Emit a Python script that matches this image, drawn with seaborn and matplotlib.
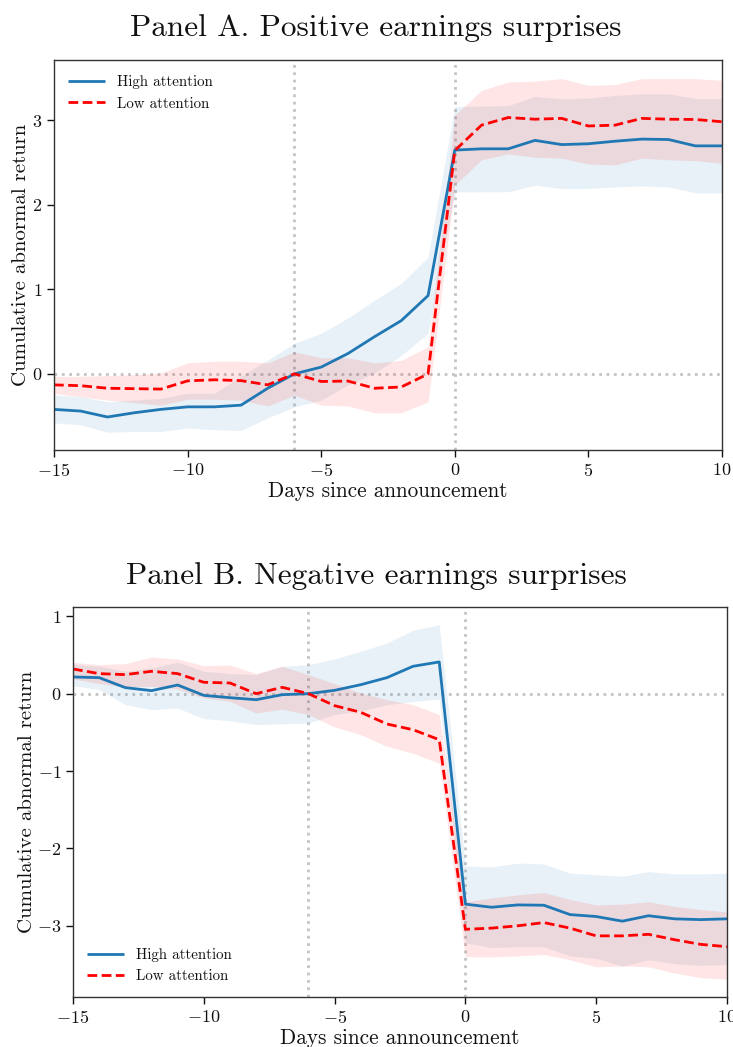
import numpy as np
import pandas as pd
import matplotlib
matplotlib.use("Agg")
import matplotlib.pyplot as plt
import seaborn as sns

days = list(range(-15, 11))

# Panel A: positive earnings surprises
pos_high = [-0.42, -0.44, -0.51, -0.46, -0.42, -0.39, -0.39, -0.37, -0.17, 0.0, 0.08, 0.24, 0.44, 0.63, 0.925,
            2.645, 2.66, 2.66, 2.76, 2.71, 2.72, 2.75, 2.775, 2.77, 2.695, 2.695]
pos_high_up = [-0.25, -0.27, -0.33, -0.31, -0.29, -0.23, -0.23, -0.03, 0.165, 0.36, 0.48, 0.66, 0.87, 1.07, 1.38,
               3.16, 3.165, 3.17, 3.28, 3.25, 3.26, 3.29, 3.31, 3.31, 3.255, 3.255]
pos_high_lo = [-0.58, -0.60, -0.69, -0.68, -0.68, -0.64, -0.66, -0.67, -0.52, -0.39, -0.31, -0.13, 0.01, 0.22, 0.48,
               2.15, 2.153, 2.153, 2.23, 2.19, 2.19, 2.21, 2.22, 2.21, 2.14, 2.14]
pos_low = [-0.13, -0.14, -0.17, -0.175, -0.18, -0.083, -0.07, -0.08, -0.13, 0.0, -0.09, -0.085, -0.17, -0.155, 0.0,
           2.64, 2.94, 3.03, 3.01, 3.02, 2.93, 2.94, 3.02, 3.01, 3.007, 2.98]
pos_low_up = [-0.03, -0.03, -0.02, -0.01, 0.01, 0.13, 0.15, 0.15, 0.13, 0.26, 0.19, 0.19, 0.13, 0.16, 0.32,
              3.06, 3.35, 3.45, 3.46, 3.49, 3.41, 3.42, 3.49, 3.49, 3.49, 3.47]
pos_low_lo = [-0.23, -0.27, -0.31, -0.34, -0.37, -0.30, -0.30, -0.31, -0.38, -0.25, -0.37, -0.38, -0.46, -0.46, -0.33,
              2.23, 2.53, 2.60, 2.56, 2.55, 2.48, 2.47, 2.55, 2.53, 2.52, 2.49]

# Panel B: negative earnings surprises
neg_high = [0.216, 0.207, 0.078, 0.039, 0.112, -0.022, -0.052, -0.078, -0.013, 0.0, 0.043, 0.116, 0.207, 0.354, 0.41,
            -2.72, -2.76, -2.73, -2.734, -2.855, -2.88, -2.94, -2.87, -2.91, -2.92, -2.91]
neg_high_up = [0.375, 0.354, 0.289, 0.33, 0.405, 0.289, 0.26, 0.246, 0.354, 0.375, 0.448, 0.548, 0.655, 0.82, 0.89,
               -2.225, -2.24, -2.19, -2.2, -2.32, -2.34, -2.36, -2.30, -2.33, -2.33, -2.32]
neg_high_lo = [0.103, 0.052, -0.142, -0.207, -0.185, -0.323, -0.35, -0.40, -0.39, -0.38, -0.27, -0.22, -0.142, -0.10, -0.069,
               -3.22, -3.28, -3.27, -3.27, -3.39, -3.42, -3.52, -3.44, -3.49, -3.51, -3.50]
neg_low = [0.319, 0.259, 0.246, 0.289, 0.259, 0.147, 0.138, 0.0, 0.082, 0.0, -0.155, -0.241, -0.392, -0.466, -0.595,
           -3.045, -3.03, -3.0, -2.958, -3.03, -3.13, -3.13, -3.11, -3.18, -3.24, -3.27]
neg_low_up = [0.405, 0.375, 0.388, 0.474, 0.448, 0.362, 0.37, 0.26, 0.354, 0.246, 0.13, 0.009, -0.078, -0.142, -0.27,
              -2.69, -2.64, -2.60, -2.57, -2.66, -2.73, -2.72, -2.69, -2.75, -2.79, -2.82]
neg_low_lo = [0.19, 0.13, 0.086, 0.095, 0.06, -0.056, -0.10, -0.25, -0.20, -0.27, -0.43, -0.53, -0.68, -0.77, -0.90,
              -3.40, -3.40, -3.39, -3.37, -3.44, -3.53, -3.52, -3.53, -3.61, -3.67, -3.69]

titles = ["Panel A. Positive earnings surprises", "Panel B. Negative earnings surprises"]
series_names = ["High attention", "Low attention"]
xlabel = "Days since announcement"
ylabel = "Cumulative abnormal return"

sns.set_style("ticks")
plt.rcParams['font.family'] = ['cmr10', 'DejaVu Serif']
plt.rcParams['mathtext.fontset'] = 'cm'
plt.rcParams['axes.formatter.use_mathtext'] = True
plt.rcParams['axes.unicode_minus'] = True
for k in ['text.color', 'axes.labelcolor', 'xtick.color', 'ytick.color']:
    plt.rcParams[k] = '#111111'

BLUE = "#1f77b4"
RED = "#ff0000"

fig = plt.figure(figsize=(7.33, 10.47), dpi=100)
axA = fig.add_axes([54/733, 1-450/1047, 668/733, 390/1047])
axB = fig.add_axes([73/733, 1-997/1047, 654/733, 390/1047])

panels = [
    (axA, pos_high, pos_high_up, pos_high_lo, pos_low, pos_low_up, pos_low_lo, (-0.90, 3.71), [0, 1, 2, 3], "upper left", 28),
    (axB, neg_high, neg_high_up, neg_high_lo, neg_low, neg_low_up, neg_low_lo, (-3.92, 1.12), [-3, -2, -1, 0, 1], "lower left", 576),
]

for i, (ax, hi, hiu, hil, lo, lou, lol, ylim, yt, loc, ty) in enumerate(panels):
    df = pd.DataFrame({"day": days * 2,
                       "car": hi + lo,
                       "group": [series_names[0]] * len(days) + [series_names[1]] * len(days)})
    ax.fill_between(days, hil, hiu, color=BLUE, alpha=0.1, linewidth=0)
    ax.fill_between(days, lol, lou, color=RED, alpha=0.1, linewidth=0)
    sns.lineplot(data=df, x="day", y="car", hue="group", style="group",
                 palette=[BLUE, RED], dashes=[(1, 0), (3.5, 1.6)],
                 linewidth=2, ax=ax, legend=True)
    ax.axvline(-6, color="#c4c4c4", linestyle=":", linewidth=2, zorder=0)
    ax.axvline(0, color="#c4c4c4", linestyle=":", linewidth=2, zorder=0)
    ax.axhline(0, color="#c4c4c4", linestyle=":", linewidth=2, zorder=0)
    ax.set_xlim(-15, 10)
    ax.set_ylim(*ylim)
    ax.set_xticks([-15, -10, -5, 0, 5, 10])
    ax.set_yticks(yt)
    ax.tick_params(labelsize=13, length=5, width=1, direction="out")
    ax.set_xlabel(xlabel, fontsize=15.3, labelpad=2)
    ax.set_ylabel(ylabel, fontsize=15, labelpad=1)
    fig.text(376/733, 1 - ty/1047, titles[i], fontsize=22.5, ha="center", va="center")
    for s in ax.spines.values():
        s.set_linewidth(1)
        s.set_color("#333333")
    leg = ax.legend(loc=loc, frameon=False, fontsize=10.8, handlelength=2.5)
    if loc == "upper left":
        leg.set_bbox_to_anchor((0.0, 0.995))

fig.savefig("out.png", dpi=100)
